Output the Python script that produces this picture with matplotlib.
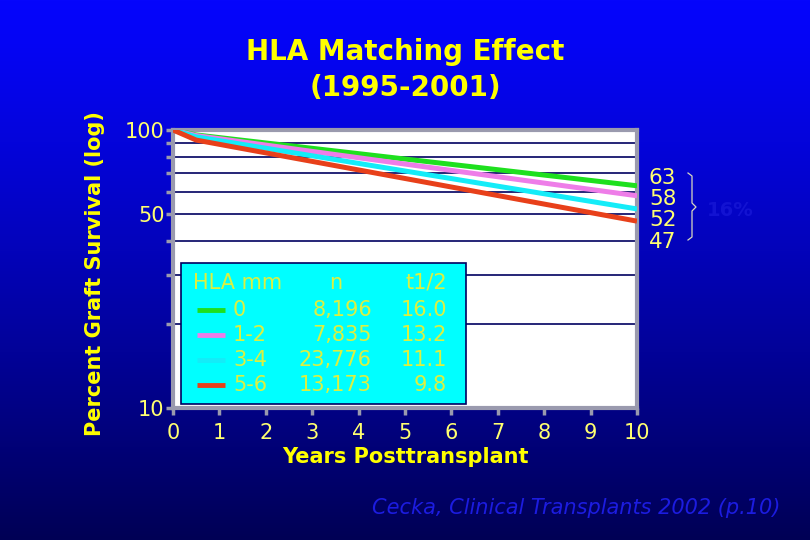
import matplotlib
matplotlib.use("Agg")
import matplotlib.pyplot as plt
import numpy as np
from matplotlib.patches import Rectangle
from matplotlib.lines import Line2D

# survival curves (percent, log scale)
years = [0, 0.5, 10]
surv_0 = [100, 96, 63]
surv_12 = [100, 95.5, 58]
surv_34 = [100, 94.5, 52]
surv_56 = [100, 92, 47]

groups = ["0", "1-2", "3-4", "5-6"]
n_pts = ["8,196", "7,835", "23,776", "13,173"]
half_life = ["16.0", "13.2", "11.1", "9.8"]
end_vals = ["63", "58", "52", "47"]
line_colors = ["#1ee01e", "#ee7de8", "#14ecf8", "#e8401a"]

ylab_color = "#ffff00"
tick_color = "#ffff70"
gray = "#9a9aae"

fig = plt.figure(figsize=(8.1, 5.4), dpi=100)

# gradient background
bg = fig.add_axes([0, 0, 1, 1], zorder=-10)
grad = np.linspace(0, 1, 256).reshape(-1, 1) ** 1.2
top = np.array([5, 5, 252]) / 255
bot = np.array([0, 0, 85]) / 255
img = top[None, None, :] * (1 - grad[:, :, None]) + bot[None, None, :] * grad[:, :, None]
bg.imshow(img, aspect="auto", extent=[0, 1, 0, 1])
bg.axis("off")

ax = fig.add_axes([173 / 810, 1 - 408 / 540, 464 / 810, 278 / 540])
ax.set_facecolor("white")
for yv, c in zip([surv_0, surv_12, surv_34, surv_56], line_colors):
    ax.plot(years, yv, color=c, lw=3.6, solid_capstyle="butt", zorder=3)

ax.set_yscale("log")
ax.set_xlim(0, 10)
ax.set_ylim(10, 100)
ax.set_xticks(range(0, 11))
ax.set_yticks([10, 50, 100])
ax.set_yticklabels(["10", "50", "100"])
ax.yaxis.set_minor_locator(matplotlib.ticker.FixedLocator([20, 30, 40, 60, 70, 80, 90]))
ax.yaxis.set_minor_formatter(matplotlib.ticker.NullFormatter())
ax.yaxis.grid(True, which="both", color="#000060", lw=1.2)
ax.set_axisbelow(True)

for s in ax.spines.values():
    s.set_color(gray)
    s.set_linewidth(3)
ax.tick_params(axis="both", which="both", direction="out", color=gray, width=2.5,
               length=5, labelcolor=tick_color, labelsize=15)
ax.tick_params(axis="x", pad=6)
ax.tick_params(axis="y", pad=1)

ax.set_xlabel("Years Posttransplant", color=ylab_color, fontsize=15,
              fontweight="bold", labelpad=3)

fig.text(95 / 810, 1 - 274 / 540, "Percent Graft Survival (log)", rotation=90,
         color=ylab_color, fontsize=15, fontweight="bold", ha="center", va="center")

fig.text(405 / 810, 1 - 70 / 540, "HLA Matching Effect\n(1995-2001)", color=ylab_color,
         fontsize=20, fontweight="bold", ha="center", va="center", linespacing=1.35)

# legend box
ax.add_patch(Rectangle((0.017, 0.014), 0.614, 0.508, transform=ax.transAxes,
                       facecolor="#00ffff", edgecolor="#000060", lw=1.2, zorder=5))
leg_txt = "#dcf040"
fs = 15
def fx(px):
    return px / 810
def fy(py):
    return 1 - py / 540
fig.text(fx(193), fy(283), "HLA mm", color=leg_txt, fontsize=fs, va="center")
fig.text(fx(336), fy(283), "n", color=leg_txt, fontsize=fs, va="center", ha="center")
fig.text(fx(447), fy(283), "t1/2", color=leg_txt, fontsize=fs, va="center", ha="right")
row_y = [310, 335, 360, 385]
for g, n, h, c, ry in zip(groups, n_pts, half_life, line_colors, row_y):
    fig.add_artist(Line2D([fx(197), fx(225)], [fy(ry), fy(ry)], color=c, lw=3.5,
                          solid_capstyle="butt"))
    fig.text(fx(233), fy(ry), g, color=leg_txt, fontsize=fs, va="center")
    fig.text(fx(372), fy(ry), n, color=leg_txt, fontsize=fs, va="center", ha="right")
    fig.text(fx(447), fy(ry), h, color=leg_txt, fontsize=fs, va="center", ha="right")

# end values with brace
for v, ry in zip(end_vals, [178, 199, 220, 242]):
    fig.text(fx(649), fy(ry), v, color=tick_color, fontsize=15.5, va="center")
bx = [688, 692, 692, 696, 692, 692, 688]
by = [173, 176, 203, 207, 211, 237, 240]
fig.add_artist(Line2D([fx(x) for x in bx], [fy(y) for y in by], color="#d8d8c0", lw=0.9))
fig.text(fx(730), fy(210), "16%", color="#1212d2", fontsize=14, fontweight="bold",
         va="center", ha="center")

fig.text(fx(780), fy(508), "Cecka, Clinical Transplants 2002 (p.10)", color="#1c1ce0",
         fontsize=15, style="italic", ha="right", va="center")

plt.savefig("out.png", dpi=100)
